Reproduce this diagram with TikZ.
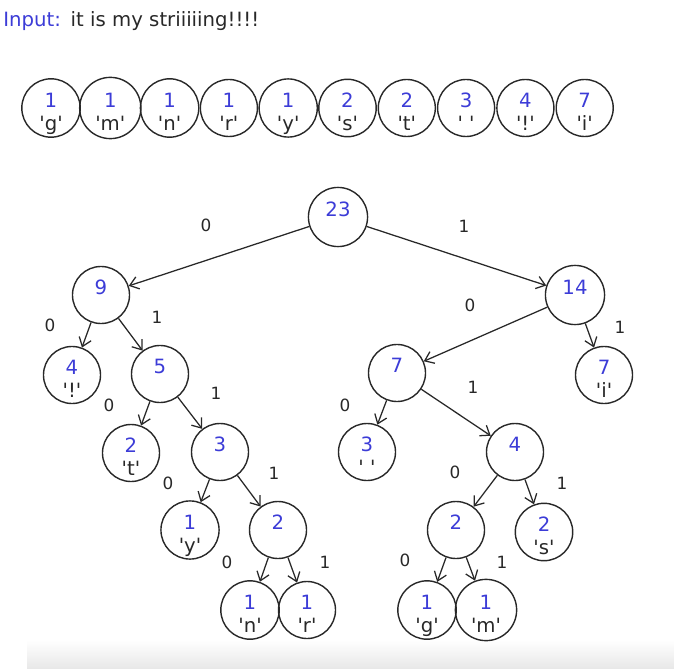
\documentclass[tikz,border=0pt]{standalone}
\usepackage{fontspec}
\setmainfont{DejaVu Sans}
\usepackage{xcolor}
\usepackage{tikz}
\usetikzlibrary{arrows.meta}
\definecolor{numblue}{RGB}{60,60,215}
\definecolor{ink}{RGB}{40,40,40}
\newcommand{\q}[1]{\textquotesingle#1\textquotesingle}
\newcommand{\wt}[2]{\rule{0pt}{19pt}{\color{numblue}#1}\\[4pt]\vphantom{\q{g}}#2}
\tikzset{
  huff node/.style={
    circle,draw=ink,line width=1pt,
    minimum size=1.425cm,inner sep=0pt,
    align=center,text=ink,
    font=\fontsize{14}{12.2}\selectfont
  },
  bit/.style={
    text=ink,inner sep=0pt,
    font=\fontsize{12}{14}\selectfont
  }
}

\begin{document}
\begin{tikzpicture}[x=0.025cm,y=-0.025cm]
    \useasboundingbox (0,0) rectangle (674,668);
    \shade[top color=white,bottom color=black!9] (27,640) rectangle (674,668);
    \node[anchor=base west,inner sep=0pt,text=ink,font=\fontsize{14}{16}\selectfont] (input) at (3,27)
        {\textcolor{numblue}{Input:}\hspace{0.5em}it is my striiiiing!!!!};
    % queue of leaves
    \begin{scope}[every node/.style={huff node}]
        \node (qg) at (51,108) {\wt{1}{\q{g}}};
        \node (qm) at (110.3,108) {\wt{1}{\q{m}}};
        \node (qn) at (169.6,108) {\wt{1}{\q{n}}};
        \node (qr) at (228.9,108) {\wt{1}{\q{r}}};
        \node (qy) at (288.2,108) {\wt{1}{\q{y}}};
        \node (qs) at (347.5,108) {\wt{2}{\q{s}}};
        \node (qt) at (406.8,108) {\wt{2}{\q{t}}};
        \node (qsp) at (466.1,108) {\wt{3}{\q{\ }}};
        \node (qex) at (525.4,108) {\wt{4}{\q{!}}};
        \node (qi) at (584.7,108) {\wt{7}{\q{i}}};
    \end{scope}
    % tree
    \begin{scope}[every node/.style={huff node}]
        \node (t23) at (338,217) {\wt{23}{}};
        \node (t9) at (101,295) {\wt{9}{}};
        \node (t14) at (575,295) {\wt{14}{}};
        \node (tex) at (72,375) {\wt{4}{\q{!}}};
        \node (t5) at (160,374) {\wt{5}{}};
        \node (t7) at (397,373) {\wt{7}{}};
        \node (ti) at (604,375) {\wt{7}{\q{i}}};
        \node (tt) at (131,453) {\wt{2}{\q{t}}};
        \node (t3) at (220,452) {\wt{3}{}};
        \node (tsp) at (367,452) {\wt{3}{\q{\ }}};
        \node (t4) at (515,452) {\wt{4}{}};
        \node (ty) at (190,530) {\wt{1}{\q{y}}};
        \node (t2a) at (278,530) {\wt{2}{}};
        \node (t2b) at (456,530) {\wt{2}{}};
        \node (ts) at (544,532) {\wt{2}{\q{s}}};
        \node (tn) at (250,610) {\wt{1}{\q{n}}};
        \node (tr) at (307,610) {\wt{1}{\q{r}}};
        \node (tg) at (427,610) {\wt{1}{\q{g}}};
        \node (tm) at (486,610) {\wt{1}{\q{m}}};
    \end{scope}
    \begin{scope}[>={Straight Barb[length=6pt,width=9pt]}, every edge/.style={draw=ink,line width=0.9pt}]
        \path [->] (t23) edge (t9);
        \path [->] (t23) edge (t14);
        \path [->] (t9) edge (tex);
        \path [->] (t9) edge (t5);
        \path [->] (t14) edge (t7);
        \path [->] (t14) edge (ti);
        \path [->] (t5) edge (tt);
        \path [->] (t5) edge (t3);
        \path [->] (t7) edge (tsp);
        \path [->] (t7) edge (t4);
        \path [->] (t3) edge (ty);
        \path [->] (t3) edge (t2a);
        \path [->] (t4) edge (t2b);
        \path [->] (t4) edge (ts);
        \path [->] (t2a) edge (tn);
        \path [->] (t2a) edge (tr);
        \path [->] (t2b) edge (tg);
        \path [->] (t2b) edge (tm);
    \end{scope}
    % bit labels
    \begin{scope}[every node/.style={bit}]
        \node (b23l) at (206,225) {0};
        \node (b23r) at (464,226) {1};
        \node (b9l) at (50,325) {0};
        \node (b9r) at (157,317) {1};
        \node (b14l) at (470,305) {0};
        \node (b14r) at (620,327) {1};
        \node (b5l) at (109,405) {0};
        \node (b5r) at (216,393) {1};
        \node (b7l) at (345,405) {0};
        \node (b7r) at (473,387) {1};
        \node (b3l) at (168,483) {0};
        \node (b3r) at (274,473) {1};
        \node (b4l) at (455,472) {0};
        \node (b4r) at (562,483) {1};
        \node (b2al) at (227,562) {0};
        \node (b2ar) at (325,562) {1};
        \node (b2bl) at (405,560) {0};
        \node (b2br) at (502,562) {1};
    \end{scope}
\end{tikzpicture}
\end{document}
